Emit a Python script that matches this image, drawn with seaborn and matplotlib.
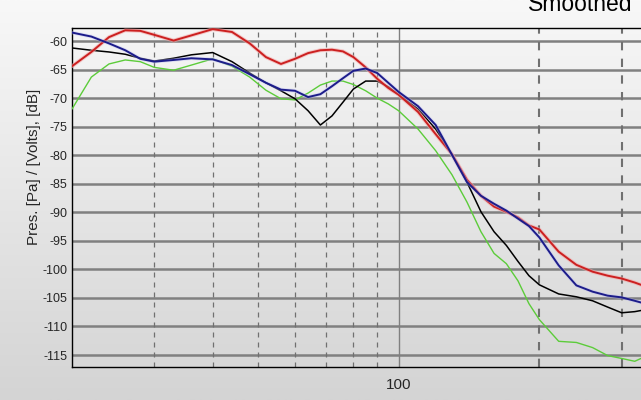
import numpy as np
import pandas as pd
import matplotlib
matplotlib.use("Agg")
import matplotlib.pyplot as plt
import matplotlib.patheffects as pe
from matplotlib.colors import LinearSegmentedColormap
import seaborn as sns

# frequency axis (Hz) shared by all four traces
freq = [20, 22, 24, 26, 28, 30, 33, 36, 40, 44, 48, 52, 56, 60, 64, 68, 72, 76, 80, 85,
        90, 95, 100, 110, 120, 130, 140, 150, 160, 170, 180, 190, 200, 220, 240, 260,
        280, 300, 320, 330]

red_db = [-64.4, -61.9, -59.3, -58.1, -58.2, -58.9, -59.9, -59.0, -57.9, -58.4, -60.4,
          -62.8, -64.0, -63.1, -62.1, -61.6, -61.5, -61.8, -62.8, -64.6, -66.6, -68.2,
          -69.4, -72.4, -76.3, -79.8, -84.3, -87.1, -89.0, -89.9, -90.9, -92.3, -93.0,
          -96.9, -99.2, -100.4, -101.1, -101.6, -102.3, -102.7]

blue_db = [-58.5, -59.2, -60.4, -61.6, -63.1, -63.6, -63.3, -63.0, -63.2, -64.2, -65.8,
           -67.3, -68.5, -68.7, -69.8, -69.3, -67.9, -66.5, -65.2, -64.8, -65.6, -67.3,
           -68.9, -71.4, -74.7, -79.9, -84.7, -87.1, -88.5, -89.7, -91.1, -92.4, -94.4,
           -99.3, -102.8, -103.9, -104.6, -104.9, -105.5, -105.8]

black_db = [-61.2, -61.6, -61.9, -62.3, -63.0, -63.5, -63.0, -62.4, -62.0, -63.6, -65.6,
            -67.3, -68.7, -70.1, -72.2, -74.7, -73.1, -70.7, -68.4, -67.0, -67.0, -68.0,
            -69.4, -71.9, -75.4, -79.9, -84.7, -89.9, -93.4, -95.8, -98.6, -101.1, -102.7,
            -104.3, -104.8, -105.5, -106.6, -107.6, -107.4, -107.2]

green_db = [-71.9, -66.3, -64.0, -63.3, -63.6, -64.6, -65.1, -64.2, -63.1, -64.4, -66.3,
            -68.6, -70.1, -70.3, -69.1, -67.7, -67.0, -67.0, -67.6, -68.7, -70.0, -71.0,
            -72.2, -75.4, -79.2, -83.4, -88.2, -93.4, -97.2, -99.0, -102.0, -106.0, -108.8,
            -112.6, -112.8, -113.7, -115.1, -115.6, -116.1, -115.6]

y_ticks = [-115, -110, -105, -100, -95, -90, -85, -80, -75, -70, -65, -60]
x_grid_dashed = [30, 40, 50, 60, 70, 80, 90, 200, 300]
x_labels = {100: "100"}

sns.set_style("white")
plt.rcParams["font.family"] = ["Liberation Sans", "DejaVu Sans"]
plt.rcParams["axes.unicode_minus"] = False

fig = plt.figure(figsize=(6.41, 4.0), dpi=100)

# grey gradient behind everything
bg = fig.add_axes([0, 0, 1, 1], zorder=-5)
grad = np.linspace(0, 1, 256).reshape(-1, 1)
bg_cmap = LinearSegmentedColormap.from_list("bg", ["#f8f8f8", "#d4d4d4"])
bg.imshow(grad, aspect="auto", cmap=bg_cmap, extent=[0, 1, 0, 1], origin="upper")
bg.set_axis_off()

ax = fig.add_axes([72 / 641, 1 - 367 / 400, 1 - 72 / 641, (367 - 28) / 400])
ax.patch.set_alpha(0)

df = pd.DataFrame({"freq": freq, "red": red_db, "blue": blue_db,
                   "black": black_db, "green": green_db})

sns.lineplot(data=df, x="freq", y="green", color="#5ccc3a", linewidth=1.0, ax=ax, zorder=3)
sns.lineplot(data=df, x="freq", y="black", color="black", linewidth=1.1, ax=ax, zorder=4)
sns.lineplot(data=df, x="freq", y="red", color="#cc2020", linewidth=1.4, ax=ax, zorder=5,
             path_effects=[pe.Stroke(linewidth=2.8, foreground="#f2a8a8", alpha=0.6), pe.Normal()])
sns.lineplot(data=df, x="freq", y="blue", color="#1c1c8a", linewidth=1.4, ax=ax, zorder=6,
             path_effects=[pe.Stroke(linewidth=2.6, foreground="#b8b8f0", alpha=0.4), pe.Normal()])

ax.set_xscale("log")
ax.set_xlim(20, 330)
ax.set_ylim(-117.1, -57.7)

# grid
for yv in y_ticks:
    ax.axhline(yv, color="#808080", linewidth=1.8, zorder=1)
for xv in x_grid_dashed:
    lw = 1.5 if xv >= 200 else 0.9
    ax.axvline(xv, color="#707070", linewidth=lw, linestyle=(0, (4, 4)), zorder=1)
ax.axvline(100, color="#808080", linewidth=1.0, zorder=1)

ax.set_yticks(y_ticks)
ax.set_yticklabels([str(v) for v in y_ticks], fontsize=9)
ax.tick_params(axis="y", direction="out", length=3, width=1.5, color="#808080", pad=0.5)

xt = sorted(x_grid_dashed + [100])
ax.xaxis.set_major_locator(matplotlib.ticker.FixedLocator(xt))
ax.xaxis.set_minor_locator(matplotlib.ticker.NullLocator())
ax.set_xticklabels([x_labels.get(v, "") for v in xt])
for lbl in ax.get_xticklabels():
    lbl.set_family(["Liberation Sans Narrow", "Liberation Sans"])
    lbl.set_fontsize(11)
ax.tick_params(axis="x", direction="out", length=3, width=1.0, color="#606060", pad=5)

ax.set_xlabel("")
ax.set_ylabel("Pres. [Pa] / [Volts], [dB]", fontsize=11)
ax.yaxis.set_label_coords(-0.055, 0.59)

for side in ["left", "bottom", "top"]:
    ax.spines[side].set_color("black")
    ax.spines[side].set_linewidth(1.0)
ax.spines["right"].set_visible(False)

# title sits partly above the top edge, as in the source image
fig.text(632 / 641, 1 - 11 / 400, "Smoothed", ha="right", va="baseline", fontsize=16.5,
         color="black")

fig.savefig("out.png", dpi=100)
plt.close(fig)
